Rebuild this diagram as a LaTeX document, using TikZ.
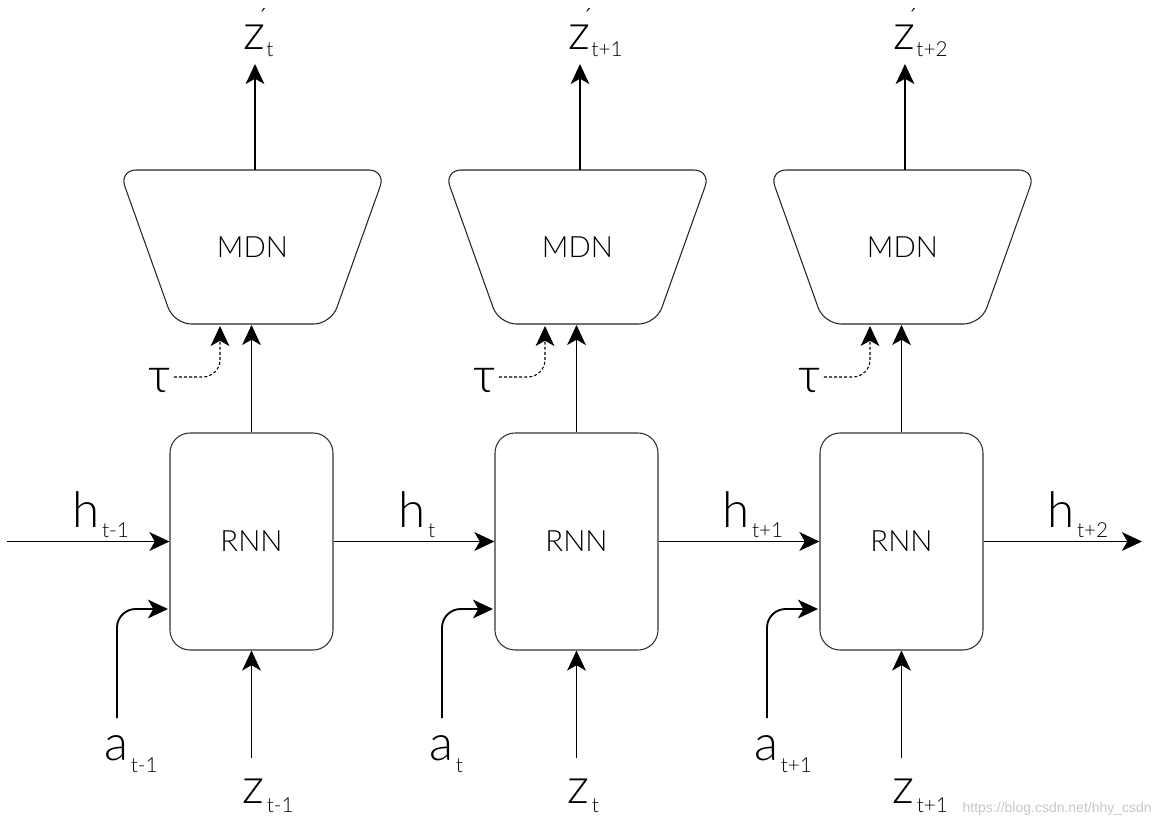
\documentclass[tikz,border=0pt]{standalone}
\usepackage{fontspec}
\setmainfont{Lato}[UprightFont={* Light}]
\newfontfamily\wmfont{Liberation Sans}
\usetikzlibrary{arrows.meta,calc}
\newcommand{\sublab}[3]{#1\kern2pt\raisebox{-#3}{\fontsize{15.5}{15.5}\selectfont #2}}
\newcommand{\primelab}[1]{z\llap{\raisebox{17pt}{\fontsize{20}{20}\selectfont ´}\kern-2pt}\kern1pt\raisebox{-5pt}{\fontsize{15.5}{15.5}\selectfont #1}}
\begin{document}
\begin{tikzpicture}[x=0.75pt,y=-0.75pt,
  rnn/.style={draw=black!80, line width=0.8pt, rounded corners=15pt,
    minimum width=122.25pt, minimum height=162.75pt, inner sep=0pt,
    font=\fontsize{22}{22}\selectfont},
  mdnshape/.style={draw=black!85, line width=0.8pt, rounded corners=13pt},
  mdntext/.style={inner sep=0pt, font=\fontsize{22}{22}\selectfont},
  lab/.style={inner sep=0pt, anchor=base west, font=\fontsize{37}{37}\selectfont},
  tip/.style={-{Stealth[length=15pt,width=14pt,inset=4pt]}},
  arr/.style={tip, line width=1.4pt},
  tarr/.style={tip, line width=0.8pt},
  darr/.style={tip, line width=0.8pt, dash pattern=on 2.2pt off 1.6pt}]
\useasboundingbox (0,0) rectangle (1160,824);

\foreach \i/\dx/\s/\p in {1/0/t-1/t, 2/325/t/t+1, 3/650/t+1/t+2} {
  % RNN box
  \node[rnn] (r\i) at (251.5+\dx,541.5) {RNN};
  % MDN trapezoid
  \draw[mdnshape] (119+\dx,170) -- (386+\dx,170) -- (331+\dx,324) -- (174+\dx,324) -- cycle;
  \node[mdntext] (m\i) at (252.5+\dx,247) {MDN};
  \coordinate (mb\i) at (251.5+\dx,325);
  \coordinate (mt\i) at (255+\dx,170);
  % RNN -> MDN
  \draw[tarr] (r\i.north) -- (mb\i);
  % MDN -> output
  \coordinate (o\i) at (255+\dx,64);
  \draw[tarr] (mt\i) -- (o\i);
  \node[lab] (zp\i) at (243+\dx,50) {\primelab{\p}};
  % tau
  \node[lab] (tau\i) at (148+\dx,392) {τ};
  \coordinate (tt\i) at (220+\dx,326);
  \draw[darr, rounded corners=13pt] ($(tau\i.east)+(3,-3)$) -| (tt\i);
  % action input
  \coordinate (as\i) at (117+\dx,718);
  \coordinate (ae\i) at (168+\dx,609);
  \draw[arr, rounded corners=14pt] (as\i) |- (ae\i);
  \node[lab] (a\i) at (104+\dx,760) {\sublab{a}{\s}{9pt}};
  % z input
  \coordinate (zs\i) at (251.5+\dx,758);
  \draw[arr] (zs\i) -- (r\i.south);
  \node[lab] (z\i) at (242+\dx,803) {\sublab{z}{\s}{7pt}};
}

% hidden state arrows
\coordinate (hin) at (7,541.5);
\coordinate (hout) at (1142,541.5);
\draw[arr] (hin) -- (r1.west);
\draw[arr] (r1.east) -- (r2.west);
\draw[arr] (r2.east) -- (r3.west);
\draw[arr] (r3.east) -- (hout);
\node[lab] (h0) at (72,527) {\sublab{h}{t-1}{8pt}};
\node[lab] (h1) at (398,527) {\sublab{h}{t}{8pt}};
\node[lab] (h2) at (722,527) {\sublab{h}{t+1}{8pt}};
\node[lab] (h3) at (1047,527) {\sublab{h}{t+2}{8pt}};

% watermark
\node[anchor=base east, inner sep=0pt, text=black!22,
  font=\wmfont\fontsize{10.5}{11}\selectfont] (wm) at (1152,812) {https://blog.csdn.net/hhy\_csdn};
\end{tikzpicture}
\end{document}
